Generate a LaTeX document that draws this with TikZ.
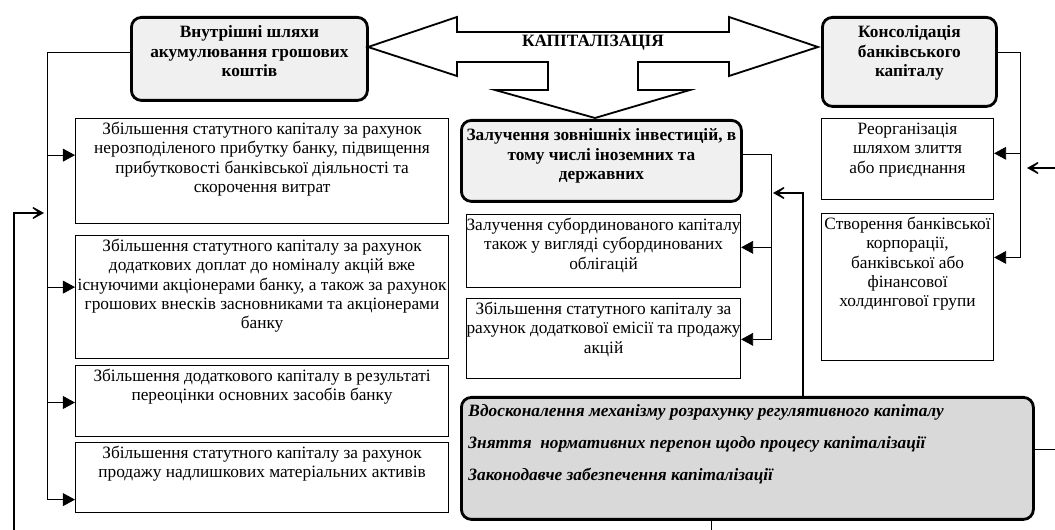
\documentclass[tikz,border=0pt]{standalone}
\usepackage{fontspec}
\setmainfont{Liberation Serif}
\usetikzlibrary{arrows.meta, positioning, calc}
\usepackage{xcolor}
\newlength{\px}
\setlength{\px}{0.025cm}
\newcommand{\boxtxt}[3]{\parbox[c][#2\px][t]{#1\px}{\centering\rule{0pt}{11.5pt}#3}}
\newcommand{\headtxt}[3]{\parbox[c][#2\px][t]{#1\px}{\centering\bfseries\rule{0pt}{14.5pt}#3}}
\definecolor{headgray}{HTML}{F0F0F0}
\definecolor{basegray}{HTML}{D9D9D9}
\tikzset{
  head/.style={draw, line width=2pt, rounded corners=2.5mm, fill=headgray, inner sep=0pt, anchor=north west},
  plain/.style={draw, line width=0.8pt, inner sep=0pt, anchor=north west},
  link/.style={line width=0.6pt, -{Triangle[length=3mm,width=3.2mm]}},
  feed/.style={line width=1.3pt, -{Stealth[length=4.5mm,width=5mm,inset=3.2mm]}},
}

\begin{document}
\fontsize{12.3}{13.7}\selectfont
\begin{tikzpicture}[x=0.025cm, y=-0.025cm]
    \useasboundingbox (0,0) rectangle (1055,530);
    % headers
    \node[head] (inner) at (130,16) {\headtxt{236}{83}{Внутрішні шляхи\\ акумулювання грошових\\ коштів}};
    \node[head] (cons) at (821,16) {\headtxt{174}{89}{Консолідація\\ банківського\\ капіталу}};
    \node[head] (ext) at (460,119) {\headtxt{280}{81}{Залучення зовнішніх інвестицій, в\\ тому числі іноземних та\\ державних}};

    % capitalisation arrow
    \draw[line width=1.3pt, fill=white] (368,47) -- (457,17) -- (457,32) -- (729,32) -- (729,17) -- (818,47) -- (729,76) -- (729,62) -- (638,62) -- (638,90) -- (690,90) -- (595,118) -- (495,90) -- (548,90) -- (548,62) -- (457,62) -- (457,76) -- cycle;
    \node[font=\bfseries] (cap) at (593,43) {КАПІТАЛІЗАЦІЯ};

    % left column
    \node[plain] (l1) at (75,118) {\boxtxt{373}{105}{Збільшення статутного капіталу за рахунок\\ нерозподіленого прибутку банку, підвищення\\ прибутковості банківської діяльності та\\ скорочення витрат}};
    \node[plain] (l2) at (75,235) {\boxtxt{373}{123}{Збільшення статутного капіталу за рахунок\\ додаткових доплат до номіналу акцій вже\\ існуючими акціонерами банку, а також за рахунок\\ грошових внесків засновниками та акціонерами\\ банку}};
    \node[plain] (l3) at (75,365) {\boxtxt{373}{71}{Збільшення додаткового капіталу в результаті\\ переоцінки основних засобів банку}};
    \node[plain] (l4) at (75,442) {\boxtxt{373}{70}{Збільшення статутного капіталу за рахунок\\ продажу надлишкових матеріальних активів}};

    % middle column
    \node[plain] (m1) at (466,214) {\boxtxt{274}{73}{Залучення субординованого капіталу\\ також у вигляді субординованих\\ облігацій}};
    \node[plain] (m2) at (466,298) {\boxtxt{274}{80}{Збільшення статутного капіталу за\\ рахунок додаткової емісії та продажу\\ акцій}};

    % right column
    \node[plain] (r1) at (821,118) {\boxtxt{172}{81}{Реорганізація\\ шляхом злиття\\ або приєднання}};
    \node[plain] (r2) at (821,213) {\boxtxt{172}{147}{Створення банківської\\ корпорації,\\ банківської або\\ фінансової\\ холдингової групи}};

    % regulation box
    \node[plain, line width=2pt, rounded corners=2.5mm, fill=basegray] (base) at (460,396) {\parbox[c][122\px][t]{572\px}{\raggedright\leftskip=7\px\bfseries\itshape
      \rule{0pt}{13.5pt}Вдосконалення механізму розрахунку регулятивного капіталу\\[9pt]
      Зняття\ \ нормативних перепон щодо процесу капіталізації\\[9pt]
      Законодавче забезпечення капіталізації}};

    % left bus
    \draw[line width=0.6pt] ($(inner.north west)!0.43!(inner.south west)$) -- ++(-83,0) coordinate (lbus);
    \coordinate (l1in) at ($(l1.north west)!0.35!(l1.south west)$);
    \coordinate (l2in) at ($(l2.north west)!0.42!(l2.south west)$);
    \coordinate (l3in) at ($(l3.north west)!0.52!(l3.south west)$);
    \coordinate (l4in) at ($(l4.north west)!0.81!(l4.south west)$);
    \draw[link] (lbus) |- (l4in);
    \foreach \b in {l1in, l2in, l3in}
        \draw[link] (lbus |- \b) -- (\b);
    \coordinate (lfeed) at (14,530);
    \coordinate (ljoin) at (44,213);
    \draw[feed] (lfeed) |- (ljoin);

    % middle bus
    \draw[line width=0.6pt] ($(ext.north east)!0.42!(ext.south east)$) -- ++(29,0) coordinate (mbus);
    \coordinate (m1in) at ($(m1.north east)!0.45!(m1.south east)$);
    \coordinate (m2in) at ($(m2.north east)!0.51!(m2.south east)$);
    \draw[link] (mbus) |- (m2in);
    \draw[link] (mbus |- m1in) -- (m1in);
    \coordinate (mjoin) at (773,193);
    \draw[feed] ($(base.north west)!0.596!(base.north east)$) |- (mjoin);

    % right bus
    \draw[line width=0.6pt] ($(cons.north east)!0.4!(cons.south east)$) -- ++(23,0) coordinate (rbus);
    \coordinate (r1in) at ($(r1.north east)!0.43!(r1.south east)$);
    \coordinate (r2in) at ($(r2.north east)!0.3!(r2.south east)$);
    \draw[link] (rbus) |- (r2in);
    \draw[link] (rbus |- r1in) -- (r1in);
    \coordinate (rfeed) at (1055,168);
    \coordinate (rjoin) at (1027,168);
    \draw[feed] (rfeed) -- (rjoin);

    % outputs of the regulation box
    \coordinate (rout) at ($(base.north east)!0.43!(base.south east)$);
    \coordinate (bout) at ($(base.south west)!0.437!(base.south east)$);
    \draw[line width=0.6pt] (rout) -- (rout -| 1055,0);
    \draw[line width=0.6pt] (bout) -- (bout |- 0,530);
\end{tikzpicture}
\end{document}
